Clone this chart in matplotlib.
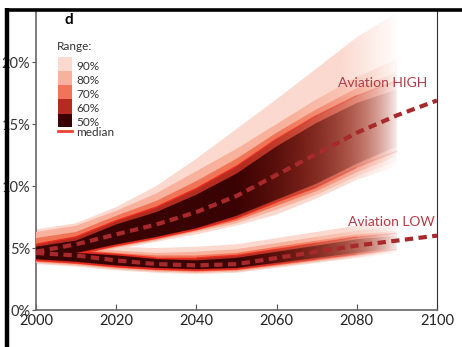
import numpy as np
import matplotlib
matplotlib.use("Agg")
import matplotlib.pyplot as plt
from matplotlib.colors import to_rgb
from matplotlib.patches import Rectangle
from matplotlib.lines import Line2D
from matplotlib.collections import LineCollection

plt.rcParams['font.family'] = ['Lato', 'DejaVu Sans']

# ---- data (share of total, %) ----
band_years = [2000, 2010, 2020, 2030, 2040, 2050, 2060, 2070, 2080, 2090]
median_years = [2000, 2010, 2020, 2030, 2040, 2050, 2060, 2070, 2080, 2090, 2100]

high_median = [4.7, 5.3, 6.1, 6.9, 7.9, 9.2, 10.9, 12.6, 14.3, 15.7, 16.9]
high_90_up = [6.5, 7.0, 8.3, 10.0, 12.2, 14.6, 17.0, 19.5, 22.0, 24.0]
high_80_up = [6.3, 6.8, 8.0, 9.4, 11.2, 13.0, 15.0, 17.0, 18.8, 20.2]
high_70_up = [5.8, 6.3, 7.6, 8.8, 10.4, 12.2, 14.3, 16.2, 17.9, 19.2]
high_60_up = [5.3, 5.9, 7.2, 8.3, 9.8, 11.6, 13.8, 15.7, 17.3, 18.5]
high_50_up = [5.1, 5.6, 6.9, 7.9, 9.3, 11.0, 13.2, 15.1, 16.7, 17.8]
high_50_lo = [4.2, 4.6, 5.3, 5.9, 6.6, 7.6, 8.9, 10.2, 11.8, 13.2]
high_60_lo = [4.1, 4.5, 5.2, 5.8, 6.5, 7.4, 8.7, 9.9, 11.5, 12.8]
high_70_lo = [4.0, 4.4, 5.1, 5.7, 6.4, 7.2, 8.4, 9.6, 11.1, 12.4]
high_80_lo = [3.9, 4.3, 5.0, 5.6, 6.3, 7.0, 8.1, 9.3, 10.8, 12.0]
high_90_lo = [3.8, 4.2, 4.9, 5.5, 6.1, 6.8, 7.7, 9.0, 10.5, 11.6]

low_median = [4.6, 4.4, 4.0, 3.7, 3.6, 3.7, 4.2, 4.7, 5.2, 5.6, 6.0]
low_90_up = [6.0, 5.6, 5.1, 5.0, 5.1, 5.3, 5.8, 6.3, 6.8, 7.2]
low_80_up = [5.6, 5.2, 4.8, 4.6, 4.7, 4.9, 5.4, 5.9, 6.4, 6.7]
low_70_up = [5.2, 4.9, 4.6, 4.4, 4.4, 4.6, 5.1, 5.6, 6.1, 6.4]
low_60_up = [5.0, 4.7, 4.5, 4.2, 4.2, 4.4, 4.9, 5.4, 5.9, 6.2]
low_50_up = [4.9, 4.6, 4.4, 4.1, 4.0, 4.2, 4.7, 5.2, 5.7, 6.0]
low_50_lo = [4.1, 3.9, 3.6, 3.4, 3.3, 3.4, 3.8, 4.2, 4.6, 5.0]
low_60_lo = [4.0, 3.8, 3.5, 3.3, 3.2, 3.3, 3.7, 4.1, 4.5, 4.9]
low_70_lo = [3.9, 3.7, 3.4, 3.2, 3.1, 3.2, 3.6, 4.0, 4.4, 4.8]
low_80_lo = [3.8, 3.6, 3.3, 3.1, 3.0, 3.1, 3.5, 3.9, 4.3, 4.7]
low_90_lo = [3.7, 3.5, 3.2, 3.0, 2.9, 3.0, 3.4, 3.8, 4.2, 4.6]

range_labels = ['90%', '80%', '70%', '60%', '50%']
range_colors = ['#fbd9cf', '#f8b19c', '#f07557', '#b42c1f', '#3a0303']
# where each band starts / ends fading out (years)
fade = [(2076, 2091), (2064, 2091), (2060, 2091), (2052, 2091), (2050, 2091)]

high_bands = [(high_90_lo, high_90_up), (high_80_lo, high_80_up), (high_70_lo, high_70_up),
              (high_60_lo, high_60_up), (high_50_lo, high_50_up)]
low_bands = [(low_90_lo, low_90_up), (low_80_lo, low_80_up), (low_70_lo, low_70_up),
             (low_60_lo, low_60_up), (low_50_lo, low_50_up)]

W, H = 462, 347
fig = plt.figure(figsize=(W / 100, H / 100), dpi=100)
ax = fig.add_axes([36 / W, 1 - 310 / H, (437 - 36) / W, (310 - 10) / H])

xs = np.linspace(2000, 2100, 400)


def ramp(x, f0, f1):
    return np.clip((f1 - np.asarray(x, float)) / (f1 - f0), 0, 1)


def faded_band(lo, hi, color, f0, f1, z):
    poly = ax.fill_between(band_years, lo, hi, facecolor='none', edgecolor='none')
    img = np.zeros((1, len(xs), 4))
    img[..., :3] = to_rgb(color)
    img[0, :, 3] = ramp(xs, f0, f1)
    im = ax.imshow(img, extent=(2000, 2100, 0, 25), aspect='auto', zorder=z,
                   interpolation='bilinear')
    im.set_clip_path(poly.get_paths()[0], transform=ax.transData)


def faded_edge(vals, z):
    pts = np.column_stack([band_years, vals])
    segs = np.stack([pts[:-1], pts[1:]], axis=1)
    mids = (np.array(band_years[:-1]) + np.array(band_years[1:])) / 2
    cols = [(0.93, 0.16, 0.12, a) for a in ramp(mids, 2045, 2092)]
    ax.add_collection(LineCollection(segs, colors=cols, linewidths=1.0, zorder=z))


for i in range(5):
    for bands in (high_bands, low_bands):
        lo, hi = bands[i]
        faded_band(lo, hi, range_colors[i], fade[i][0], fade[i][1], 2 + i)

for bands in (high_bands, low_bands):
    faded_edge(bands[3][0], 5.5)
    faded_edge(bands[3][1], 5.5)

# medians
ax.plot(median_years, high_median, color='#a8292b', lw=3, ls=(0, (2, 1.3)), zorder=10)
ax.plot(median_years, low_median, color='#a8292b', lw=3, ls=(0, (2, 1.3)), zorder=10)

ax.text(2097.5, 18.3, 'Aviation HIGH', color='#b23b45', fontsize=10, ha='right', va='center', zorder=11)
ax.text(2099.5, 7.1, 'Aviation LOW', color='#b23b45', fontsize=10, ha='right', va='center', zorder=11)

ax.set_xlim(2000, 2100)
ax.set_ylim(0, 24.2)
ax.set_xticks([2000, 2020, 2040, 2060, 2080, 2100])
ax.set_yticks([0, 5, 10, 15, 20])
ax.set_yticklabels(['0%', '5%', '10%', '15%', '20%'])
ax.tick_params(axis='x', direction='in', length=4, pad=3, labelsize=10.5, colors='#555555', labelcolor='#222222')
ax.tick_params(axis='y', direction='out', length=3, pad=1, labelsize=10.5, colors='#555555', labelcolor='#333333')
ax.spines['top'].set_visible(False)
for s in ['left', 'bottom']:
    ax.spines[s].set_color('#666666')
    ax.spines[s].set_linewidth(1.2)
ax.spines['right'].set_color('#333333')
ax.spines['right'].set_linewidth(0.8)


def fx(p):
    return p / W


def fy(p):
    return 1 - p / H


# panel letter and legend
fig.text(fx(69), fy(20), 'd', fontsize=11, fontweight='bold', ha='center', va='center')
fig.text(fx(57), fy(47), 'Range:', fontsize=8.5, color='#333333', va='center')
row_top = [57, 71, 85, 99, 114]
row_bot = [71, 85, 99, 114, 127]
for i in range(5):
    fig.add_artist(Rectangle((fx(58), fy(row_bot[i])), 14 / W, (row_bot[i] - row_top[i]) / H,
                             transform=fig.transFigure, facecolor=range_colors[i], edgecolor='none'))
    fig.text(fx(76), fy((row_top[i] + row_bot[i]) / 2 + 2), range_labels[i], fontsize=8.5,
             color='#333333', va='center')
fig.add_artist(Line2D([fx(58), fx(72)], [fy(131), fy(131)], transform=fig.transFigure,
                      color='#ee4030', lw=2))
fig.text(fx(76), fy(132), 'median', fontsize=8.5, color='#333333', va='center')

# black frame
fig.add_artist(Line2D([fx(7), fx(7)], [fy(8), 0], transform=fig.transFigure, color='black', lw=3.2,
                      zorder=20, solid_capstyle='butt'))
fig.add_artist(Line2D([fx(5), 1], [fy(9.5), fy(9.5)], transform=fig.transFigure, color='black', lw=2.6,
                      zorder=20, solid_capstyle='butt'))

fig.savefig('out.png', dpi=100)
